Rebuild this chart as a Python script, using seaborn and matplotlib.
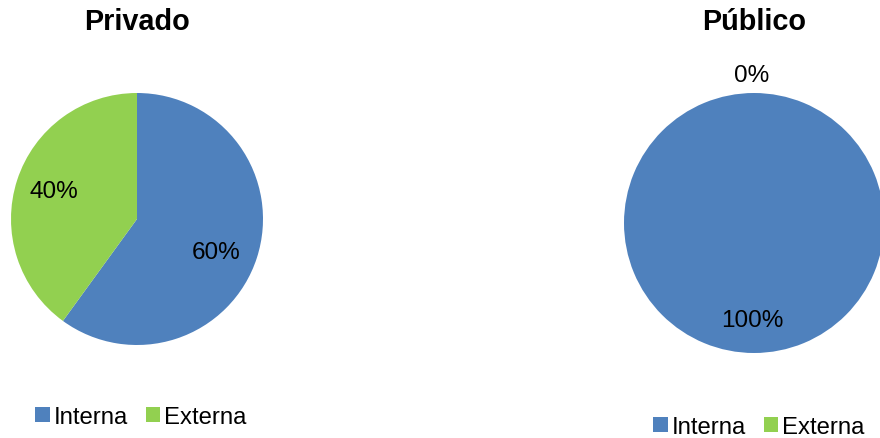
import matplotlib
matplotlib.use("Agg")
import matplotlib.pyplot as plt
import seaborn as sns
from matplotlib.patches import Rectangle

categories = ["Interna", "Externa"]
privado_values = [60, 40]
publico_values = [100, 0]
titles = ["Privado", "Público"]
colors = ["#4F81BD", "#92D050"]

sns.set_theme(style="white")
plt.rcParams["font.family"] = ["Liberation Sans", "DejaVu Sans"]
plt.rcParams["text.color"] = "black"
plt.rcParams["legend.labelcolor"] = "black"

W, H = 880, 439
fig = plt.figure(figsize=(W / 100, H / 100), dpi=100)
fig.patch.set_facecolor("white")


def add_pie(cx, cy, r, values, title, label_pos, legend_xy):
    ax = fig.add_axes([(cx - r) / W, (H - cy - r) / H, 2 * r / W, 2 * r / H])
    ax.pie(values, colors=colors, startangle=90, counterclock=False,
           radius=1, wedgeprops=dict(linewidth=0))
    ax.set_xlim(-1, 1)
    ax.set_ylim(-1, 1)
    ax.set_aspect("auto")
    ax.axis("off")
    for v, (lx, ly) in zip(values, label_pos):
        ax.text(lx, ly, f"{v}%", ha="center", va="center", fontsize=17.5,
                color="black", clip_on=False)
    fig.text(cx / W, 1 - 22 / H, title, ha="center", va="center",
             fontsize=20.8, fontweight="bold", color="black")
    handles = [Rectangle((0, 0), 1, 1, facecolor=c, edgecolor="none") for c in colors]
    fig.legend(handles, categories, loc="center left",
               bbox_to_anchor=(legend_xy[0] / W, 1 - legend_xy[1] / H),
               ncol=2, frameon=False, fontsize=17.2, handlelength=0.62,
               handleheight=0.62, handletextpad=0.15, columnspacing=0.75,
               borderpad=0, borderaxespad=0, labelcolor="black")
    return ax


add_pie(137, 220, 126, privado_values, titles[0],
        [(0.627, -0.262), (-0.659, 0.222)], (35, 418))
add_pie(754, 224, 130, publico_values, titles[1],
        [(-0.015, -0.746), (-0.015, 1.138)], (653, 428))

fig.savefig("out.png", dpi=100, facecolor="white")
